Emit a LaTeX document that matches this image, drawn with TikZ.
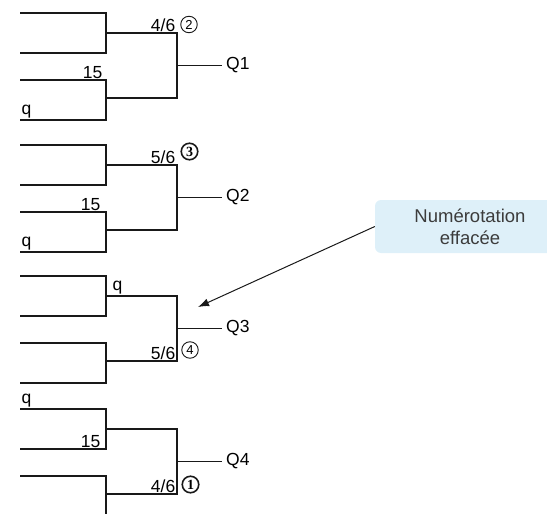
\documentclass[tikz,border=0pt]{standalone}
\usepackage{fontspec}
\setmainfont{Liberation Sans}
\newfontfamily\serifnum{Liberation Serif}
\usepackage{xcolor}
\usepackage{tikz}
\usetikzlibrary{arrows.meta,positioning}

\definecolor{notefill}{RGB}{222,240,249}
\definecolor{notetext}{RGB}{60,60,60}

\begin{document}
\begin{tikzpicture}[
  x=1pt, y=-1pt,
  font=\fontsize{17.5}{20}\selectfont,
  >=Latex,
  wire/.style={draw=black!90, line width=1.3pt},
  score/.style={inner sep=1.5pt},
  rank/.style={circle, draw=black!90, line width=0.9pt, minimum size=16.5pt, inner sep=0pt, font=\fontsize{13}{13}\selectfont},
  rankbold/.style={rank, line width=1.6pt, font=\serifnum\bfseries\fontsize{14}{14}\selectfont},
  qlab/.style={anchor=west, inner sep=4pt},
  callout/.style={fill=notefill, rounded corners=6pt, minimum width=190pt, minimum height=53pt, align=center, text=notetext, font=\fontsize{18.5}{22}\selectfont},
  pointer/.style={-{Latex[length=11pt,width=8pt]}, line width=1pt, black!90}
]
\clip (0,0) rectangle (547,514);

% Q1
\draw[wire] (20,13) -- (106,13) -- (106,53) -- (20,53);
\draw[wire] (20,80) -- (106,80) -- (106,120) -- (20,120);
\draw[wire] (106,33) -| (177,98) -- (106,98);
\coordinate (j1) at (177,65);
\node[qlab] (q1) at (222,65) {Q1};
\draw[wire, line width=1pt] (j1) -- (q1.west);
\node[score, anchor=south east] (s1a) at (177,33) {4/6};
\node[rank] (r1) at (189,24.5) {2};
\node[score, anchor=south east] (s1b) at (104,80) {15};
\node[score, anchor=south west] (s1c) at (20,120) {q};

% Q2
\draw[wire] (20,145) -- (106,145) -- (106,185) -- (20,185);
\draw[wire] (20,212) -- (106,212) -- (106,252) -- (20,252);
\draw[wire] (106,165) -| (177,230) -- (106,230);
\coordinate (j2) at (177,197);
\node[qlab] (q2) at (222,197) {Q2};
\draw[wire, line width=1pt] (j2) -- (q2.west);
\node[score, anchor=south east] (s2a) at (177,165) {5/6};
\node[rankbold] (r2) at (189.5,151.5) {3};
\node[score, anchor=south east] (s2b) at (102,212) {15};
\node[score, anchor=south west] (s2c) at (20,252) {q};

% Q3
\draw[wire] (20,276) -- (106,276) -- (106,316) -- (20,316);
\draw[wire] (20,343) -- (106,343) -- (106,383) -- (20,383);
\draw[wire] (106,296) -| (177,361) -- (106,361);
\coordinate (j3) at (177,328);
\node[qlab] (q3) at (222,328) {Q3};
\draw[wire, line width=1pt] (j3) -- (q3.west);
\node[score, anchor=south west] (s3a) at (111,296) {q};
\node[score, anchor=south east] (s3b) at (177,361) {5/6};
\node[rank] (r3) at (190,350) {4};

% Q4
\draw[wire] (20,409) -- (106,409) -- (106,449) -- (20,449);
\draw[wire] (20,476) -- (106,476) -- (106,520) -- (20,520);
\draw[wire] (106,429) -| (177,494) -- (106,494);
\coordinate (j4) at (177,461);
\node[qlab] (q4) at (222,461) {Q4};
\draw[wire, line width=1pt] (j4) -- (q4.west);
\node[score, anchor=south west] (s4a) at (20,409) {q};
\node[score, anchor=south east] (s4b) at (102,449) {15};
\node[score, anchor=south east] (s4c) at (177,494) {4/6};
\node[rankbold] (r4) at (190.5,484.5) {1};

% callout
\node[callout] (note) at (470,226.5) {Numérotation\\effacée};
\coordinate (tip) at (198,307);
\draw[pointer] (note.west) -- (tip);

\end{tikzpicture}
\end{document}
